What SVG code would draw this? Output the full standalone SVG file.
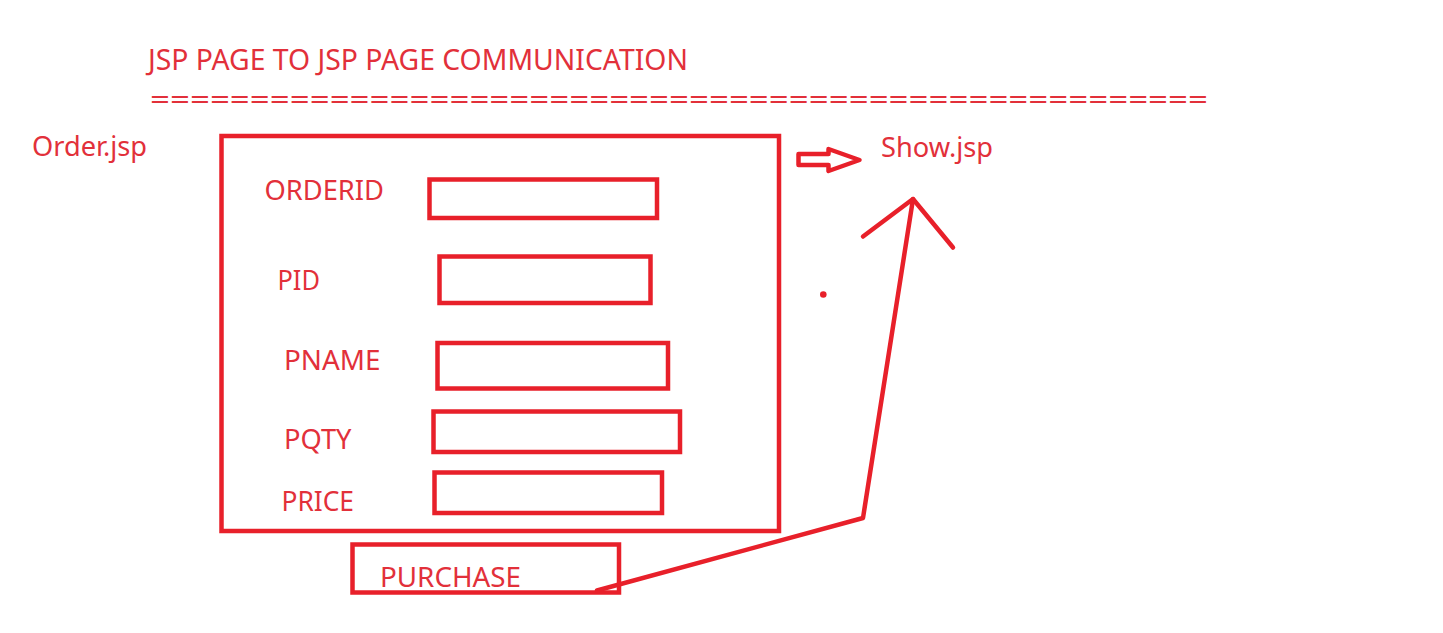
<svg xmlns="http://www.w3.org/2000/svg" width="1443" height="633" viewBox="0 0 1443 633">
<style>
  .t { font-family: "Noto Sans", "Open Sans", "Liberation Sans", sans-serif; fill: #e2303a; }
  .box { fill: none; stroke: #e8202a; stroke-width: 4.5; }
  .ln { fill: none; stroke: #e8202a; stroke-width: 4.5; stroke-linecap: round; stroke-linejoin: round; }
</style>
<rect width="1443" height="633" fill="#ffffff"/>
<g id="title">
  <text class="t" x="148" y="69.5" font-size="29.5" textLength="540" lengthAdjust="spacingAndGlyphs">JSP PAGE TO JSP PAGE COMMUNICATION</text>
  <text class="t" x="150" y="109" font-size="28" textLength="1058" lengthAdjust="spacingAndGlyphs">=====================================================</text>
</g>
<g id="order-label">
  <text class="t" x="32" y="156" font-size="27.5" textLength="115" lengthAdjust="spacingAndGlyphs">Order.jsp</text>
</g>
<g id="show-label">
  <text class="t" x="881" y="157" font-size="27.5" textLength="112" lengthAdjust="spacingAndGlyphs">Show.jsp</text>
</g>
<g id="form">
  <rect class="box" x="221.5" y="136" width="557.5" height="395"/>
</g>
<g id="orderid">
  <text class="t" x="264.5" y="200" font-size="27.5" textLength="119.5" lengthAdjust="spacingAndGlyphs">ORDERID</text>
  <rect class="box" x="429.5" y="179.5" width="227.5" height="38.5"/>
</g>
<g id="pid">
  <text class="t" x="277.5" y="289.5" font-size="27.5" textLength="42.5" lengthAdjust="spacingAndGlyphs">PID</text>
  <rect class="box" x="439.5" y="256.5" width="211" height="46.5"/>
</g>
<g id="pname">
  <text class="t" x="284" y="370" font-size="27.5" textLength="96.5" lengthAdjust="spacingAndGlyphs">PNAME</text>
  <rect class="box" x="437.5" y="343" width="230.5" height="45.5"/>
</g>
<g id="pqty">
  <text class="t" x="284" y="449" font-size="27.5" textLength="67.5" lengthAdjust="spacingAndGlyphs">PQTY</text>
  <rect class="box" x="433.5" y="411.5" width="246.5" height="40.5"/>
</g>
<g id="price">
  <text class="t" x="281.5" y="510.5" font-size="27.5" textLength="72.5" lengthAdjust="spacingAndGlyphs">PRICE</text>
  <rect class="box" x="434.5" y="472.5" width="227.5" height="40.5"/>
</g>
<g id="purchase">
  <rect class="box" x="352.5" y="544.5" width="266.5" height="48"/>
  <text class="t" x="380" y="587" font-size="27.5" textLength="141" lengthAdjust="spacingAndGlyphs">PURCHASE</text>
</g>
<g id="connectors">
  <polygon class="ln" stroke-width="3.5" points="798.5,154 828.5,154 828.5,149 859.5,160 828.5,171 828.5,165 798.5,165"/>
  <polyline class="ln" points="597,590.5 863,518 913,199"/>
  <polyline class="ln" points="863,236.5 913,199 953,247.5"/>
  <circle cx="823.3" cy="294.5" r="3.3" fill="#e8202a"/>
</g>
</svg>
